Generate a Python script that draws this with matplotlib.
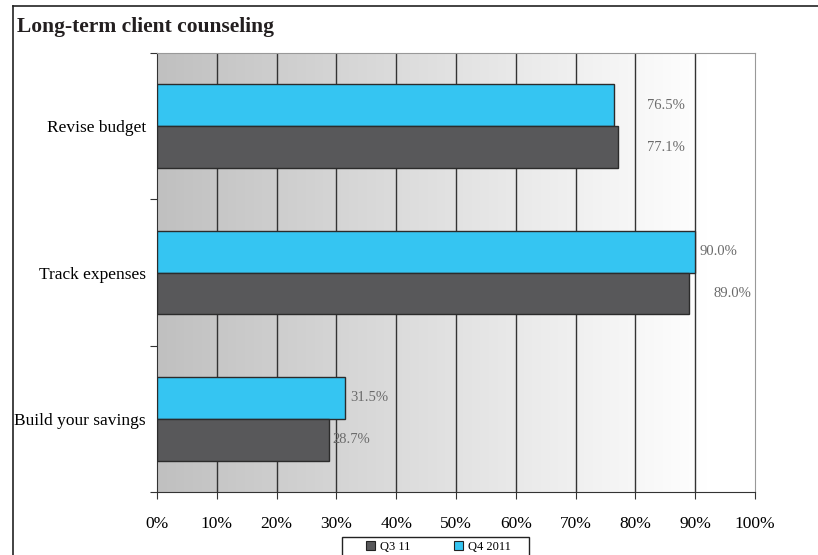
import matplotlib.pyplot as plt
import numpy as np
from matplotlib.lines import Line2D

plt.rcParams['font.family'] = ['Liberation Serif', 'DejaVu Serif']

# data
categories = ["Build your savings", "Track expenses", "Revise budget"]
q3_11 = [28.7, 89.0, 77.1]
q4_2011 = [31.5, 90.0, 76.5]
# where Excel put the value labels (x, in %)
q3_label_x = [29.4, 93.0, 81.9]
q4_label_x = [32.3, 90.8, 81.9]
xticks = np.arange(0, 101, 10)

W, H = 818, 555
fig = plt.figure(figsize=(W / 100, H / 100), dpi=100)
ax = fig.add_axes([157 / W, 1 - 492 / H, (755 - 157) / W, (492 - 53) / H])

# grey-to-white gradient backdrop
grad = np.linspace(0, 1, 256)
shade = np.clip(192 + (255 - 192) * grad / 0.92, 0, 255) / 255
img = np.dstack([shade, shade, shade]).reshape(1, -1, 3)
ax.imshow(img, extent=[0, 100, -0.5, 2.5], aspect='auto', zorder=0)

for x in xticks[1:-1]:
    ax.axvline(x, color='#333333', lw=1, zorder=1)

y = np.arange(len(categories))
h = 0.286
ax.barh(y + h / 2, q4_2011, height=h, color='#35C5F2', edgecolor='#2b2b2b',
        lw=1, zorder=3, label='Q4 2011')
ax.barh(y - h / 2, q3_11, height=h, color='#58585A', edgecolor='#2b2b2b',
        lw=1, zorder=3, label='Q3 11')

for i in range(len(categories)):
    ax.text(q4_label_x[i], y[i] + h / 2, f"{q4_2011[i]:.1f}%", va='center',
            ha='left', fontsize=10.5, color='#6b6b6b', zorder=4)
    ax.text(q3_label_x[i], y[i] - h / 2, f"{q3_11[i]:.1f}%", va='center',
            ha='left', fontsize=10.5, color='#6b6b6b', zorder=4)

ax.set_xlim(0, 100)
ax.set_ylim(-0.5, 2.5)
ax.set_xticks(xticks)
ax.set_xticklabels([f"{v}%" for v in xticks], fontsize=12.5)
ax.set_yticks([-0.5, 0.5, 1.5, 2.5])
ax.set_yticklabels([])
ax.set_yticks(y, minor=True)
ax.set_yticklabels(categories, minor=True, fontsize=12.5)
ax.tick_params(axis='y', which='minor', length=0, pad=8)
ax.tick_params(axis='y', which='major', length=5, color='#333333')
ax.tick_params(axis='x', length=5, color='#333333', pad=12)

for s in ['left', 'bottom']:
    ax.spines[s].set_color('#333333')
for s in ['top', 'right']:
    ax.spines[s].set_color('#999999')

fig.text(17 / W, 1 - 27 / H, "Long-term client counseling", fontsize=15.5,
         fontweight='bold', va='center', ha='left', color='#231f20')

# outer frame (only left and top edges show)
fig.add_artist(Line2D([13 / W, 13 / W], [1 - 6 / H, 0], color='#222222', lw=1.2))
fig.add_artist(Line2D([13 / W, 1], [1 - 6 / H, 1 - 6 / H], color='#222222', lw=1.2))

# legend box, cut off by the bottom edge like the original
fig.add_artist(plt.Rectangle((342 / W, -0.01), (529 - 342) / W, 0.01 + (555 - 537) / H,
                             transform=fig.transFigure, fill=False,
                             ec='#222222', lw=1))
hs = [plt.Rectangle((0, 0), 1, 1, fc='#58585A', ec='#222222', lw=0.8),
      plt.Rectangle((0, 0), 1, 1, fc='#35C5F2', ec='#222222', lw=0.8)]
leg = fig.legend(hs, ['Q3 11', 'Q4 2011'], loc='center left',
                 bbox_to_anchor=(366 / W, 1 - 547 / H), ncol=2, fontsize=9,
                 frameon=False, handlelength=0.75, handleheight=0.75,
                 handletextpad=0.35, columnspacing=3.5, borderpad=0,
                 borderaxespad=0)

fig.savefig('out.png', dpi=100)
